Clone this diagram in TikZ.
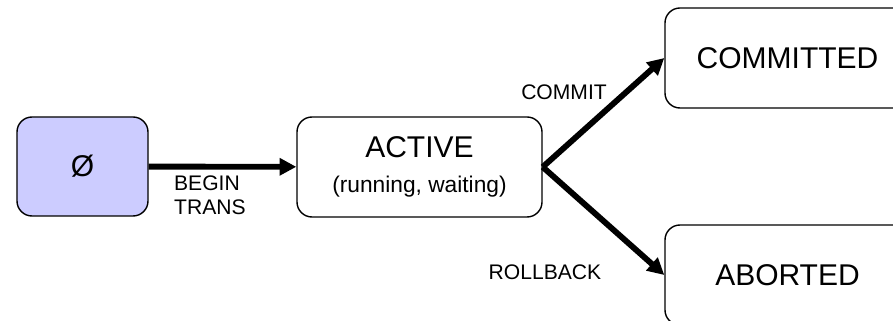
\documentclass[tikz,border=0pt]{standalone}
\usepackage{fontspec}
\setmainfont{Liberation Sans}
\usetikzlibrary{arrows.meta}
\definecolor{startblue}{RGB}{204,204,255}

\begin{document}
\begin{tikzpicture}[x=0.03cm, y=-0.03cm,
    state/.style={draw, line width=1.2pt, rounded corners=0.45cm, minimum width=7.35cm, minimum height=3cm, align=center, font=\fontsize{25.6}{30}\selectfont},
    trans/.style={line width=5pt, -{Triangle[length=0.5cm, width=0.5cm]}},
    lbl/.style={font=\fontsize{18}{20}\selectfont, align=left}]
    \useasboundingbox (0,0) rectangle (893,321);
    % States
    \node[state, fill=startblue, minimum width=3.93cm, minimum height=2.97cm] (empty) at (82.5,166.5) {Ø};
    \node[state] (active) at (419.5,167) {ACTIVE\\{\fontsize{19.4}{22}\selectfont(running, waiting)}};
    \node[state] (committed) at (787.5,58) {COMMITTED};
    \node[state] (aborted) at (787.5,275) {ABORTED};
    % Transitions
    \draw[trans] (empty) -- (active);
    \draw[trans] (active.east) -- (committed.west);
    \draw[trans] (active.east) -- (aborted.west);
    % Labels
    \node[lbl, anchor=north west] (begin) at (170,172) {BEGIN\\TRANS};
    \node[lbl] (commit) at (564,92) {COMMIT};
    \node[lbl] (rollback) at (545,272) {ROLLBACK};
\end{tikzpicture}
\end{document}
